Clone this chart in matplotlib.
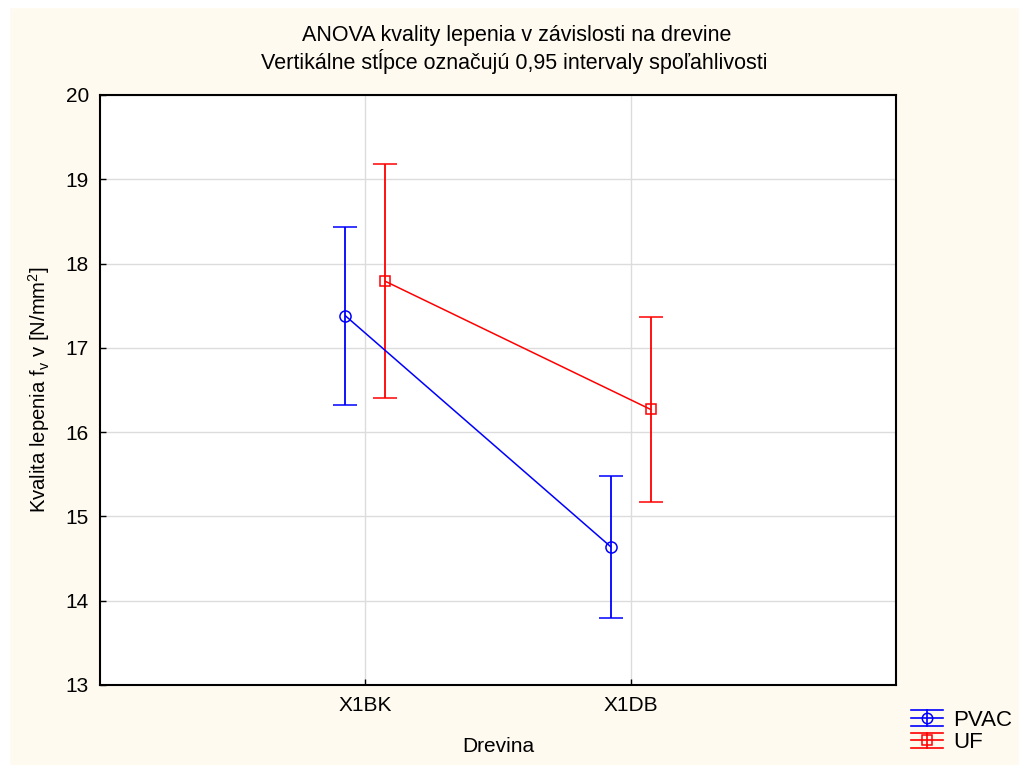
import matplotlib
matplotlib.use("Agg")
import matplotlib.pyplot as plt
from matplotlib.patches import Rectangle
from matplotlib.lines import Line2D
from matplotlib.legend_handler import HandlerBase

plt.rcParams['font.family'] = ['Liberation Sans', 'DejaVu Sans']

categories = ["X1BK", "X1DB"]
series = ["PVAC", "UF"]
pvac_mean = [17.38, 14.64]
pvac_low = [16.32, 13.80]
pvac_high = [18.43, 15.48]
uf_mean = [17.79, 16.27]
uf_low = [16.40, 15.17]
uf_high = [19.18, 17.37]
yticks = [13, 14, 15, 16, 17, 18, 19, 20]

cream = "#FFFAF0"
fig = plt.figure(figsize=(10.19, 7.65), dpi=100, facecolor=cream)
fig.patches.append(Rectangle((0, 0), 9/1019, 1, transform=fig.transFigure, color="white", zorder=0))
fig.patches.append(Rectangle((0, 1 - 7/765), 1, 7/765, transform=fig.transFigure, color="white", zorder=0))

ax = fig.add_axes([100/1019, 1 - 685/765, 796/1019, 590/765])
ax.set_facecolor("white")

xpos = [1, 2]
off = 0.075
specs = [
    (pvac_mean, pvac_low, pvac_high, "blue", "o", -off),
    (uf_mean, uf_low, uf_high, "red", "s", off),
]
proxies = []
for (m, lo, hi, col, mk, dx), name in zip(specs, series):
    xs = [x + dx for x in xpos]
    yerr = [[mm - l for mm, l in zip(m, lo)], [h - mm for mm, h in zip(m, hi)]]
    ms = 8 if mk == "o" else 7.5
    ax.errorbar(xs, m, yerr=yerr, color=col, marker=mk, markersize=ms,
                markerfacecolor="none", markeredgecolor=col, markeredgewidth=1.1,
                linewidth=1.1, elinewidth=1.3, capsize=8.5, capthick=1.3, zorder=3)
    proxies.append(Line2D([], [], color=col, marker=mk, markersize=ms - 0.5,
                          markerfacecolor="none", markeredgecolor=col, linewidth=1.2))


class ErrHandler(HandlerBase):
    def create_artists(self, legend, orig, xdescent, ydescent, width, height, fontsize, trans):
        col = orig.get_color()
        cy = height / 2 - ydescent
        h = height * 0.42
        x0, x1 = -xdescent, width - xdescent
        xc = (x0 + x1) / 2
        arts = []
        for yy in (cy - h, cy, cy + h):
            arts.append(Line2D([x0, x1], [yy, yy], color=col, lw=1.2, transform=trans))
        arts.append(Line2D([xc, xc], [cy - h, cy + h], color=col, lw=1.2, transform=trans))
        arts.append(Line2D([xc], [cy], marker=orig.get_marker(), markersize=orig.get_markersize(),
                           markerfacecolor="none", markeredgecolor=col, markeredgewidth=1.1,
                           linestyle="none", transform=trans))
        return arts


ax.set_xlim(0, 3)
ax.set_ylim(13, 20)
ax.set_xticks(xpos)
ax.set_xticklabels(categories)
ax.set_yticks(yticks)
ax.tick_params(direction="in", length=4, width=1, labelsize=15, pad=8)
ax.grid(True, color="#DCDCDC", linewidth=1)
ax.set_axisbelow(True)
for s in ax.spines.values():
    s.set_linewidth(1.5)
    s.set_color("black")

ax.set_xlabel("Drevina", fontsize=15, labelpad=16)
ax.set_ylabel(r"Kvalita lepenia f$_\mathregular{v}$ v [N/mm$^\mathregular{2}$]", fontsize=14.6, labelpad=10)

fig.text(517/1019, 1 - 35/765, "ANOVA kvality lepenia v závislosti na drevine", ha="center", va="center", fontsize=15.5)
fig.text(514/1019, 1 - 62/765, "Vertikálne stĺpce označujú 0,95 intervaly spoľahlivosti", ha="center", va="center", fontsize=15.5)

fig.legend(handles=proxies, labels=series, loc="center left",
           handler_map={Line2D: ErrHandler()},
           bbox_to_anchor=(911/1019, 1 - 731/765), frameon=False, fontsize=16,
           handlelength=1.45, handleheight=0.9, handletextpad=0.45, labelspacing=0.02,
           borderpad=0, borderaxespad=0)

fig.savefig("out.png", dpi=100, facecolor=cream)
